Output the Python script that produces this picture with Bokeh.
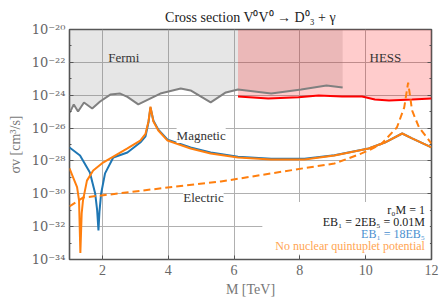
from bokeh.plotting import figure
from bokeh.models import (FixedTicker, Label, BoxAnnotation, LogAxis, CustomJSTickFormatter)
from bokeh.embed import file_html
from bokeh.resources import INLINE

# ---------------- data ----------------
# Fermi limit (grey)
fermi_M = [1.01, 1.13, 1.26, 1.44, 1.69, 1.93, 2.24, 2.54, 2.76, 3.09, 3.76, 4.38, 4.68,
           5.29, 5.75, 6.12, 7.13, 8.04, 8.81, 9.30]
fermi_log = [-25.05, -24.56, -24.99, -24.44, -24.81, -24.38, -23.96, -23.90, -24.10, -24.56,
             -23.90, -23.59, -23.71, -24.44, -23.83, -23.65, -23.90, -23.65, -23.41, -23.53]
# HESS limit (red)
hess_M = [6.12, 7.04, 7.96, 8.57, 9.28, 9.89, 10.28, 10.71, 11.41, 12.0]
hess_log = [-24.08, -24.20, -24.12, -24.02, -24.08, -24.08, -24.26, -24.32, -24.26, -24.20]
# Magnetic, no nuclear quintuplet potential (orange solid)
mag_M = [1.0, 1.10, 1.23, 1.29, 1.33, 1.37, 1.41, 1.53, 1.72, 2.02, 2.54, 2.76, 3.15, 3.31,
         3.40, 3.46, 3.55, 3.70, 3.98, 4.68, 5.29, 6.12, 7.13, 8.14, 9.05, 10.09, 10.58,
         11.11, 11.41, 12.0]
mag_log = [-28.45, -28.95, -29.6, -30.4, -33.6, -31.2, -30.4, -29.2, -28.58, -28.1, -27.49,
           -27.24, -26.76, -26.35, -25.6, -24.7, -25.6, -26.15, -26.76, -27.24, -27.55,
           -27.79, -27.91, -27.91, -27.67, -27.24, -26.88, -26.33, -26.63, -27.18]
# Magnetic, E_B1 = 18 E_B5 (blue)
magb_M = [1.0, 1.32, 1.62, 1.78, 1.84, 1.88, 1.91, 1.96, 2.08, 2.33, 2.76, 3.15, 3.31,
          3.40, 3.46, 3.55, 3.70, 3.98, 4.68, 5.29, 6.12, 7.13, 8.14, 9.05, 10.09, 10.58,
          11.11, 11.41, 12.0]
magb_log = [-27.18, -27.67, -28.7, -29.98, -31.0, -32.23, -31.1, -30.0, -28.76, -27.79,
            -27.49, -26.88, -26.5, -25.65, -24.75, -25.55, -26.10, -26.70, -27.18, -27.49,
            -27.74, -27.86, -27.87, -27.65, -27.24, -26.88, -26.33, -26.63, -27.18]
# Electric, no nuclear quintuplet potential (orange dashed)
ele_M = [1.0, 1.41, 2.24, 3.98, 5.60, 6.73, 8.26, 9.05, 9.79, 10.09, 10.49, 10.95, 11.17,
         11.29, 11.41, 11.62, 11.93, 12.0]
ele_log = [-30.77, -30.23, -30.04, -29.62, -29.25, -28.89, -28.40, -28.16, -27.61, -27.36,
           -26.94, -25.96, -24.75, -23.23, -24.93, -25.96, -26.76, -26.94]

y_ticks = [-20, -22, -24, -26, -28, -30, -32, -34]
y_minor = [-21, -23, -25, -27, -29, -31, -33]
x_ticks = [2, 4, 6, 8, 10, 12]

def sup(n):
    tbl = str.maketrans("-0123456789", "⁻⁰¹²³⁴⁵⁶⁷⁸⁹")
    return "10" + str(n).translate(tbl)

def pw(lst):
    return [10.0 ** v for v in lst]

SERIF = "DejaVu Serif"
SERIF2 = "Liberation Serif"
TOP = 1e-20

p = figure(width=448, height=308, x_range=(1, 12), y_range=(1e-34, 1e-20),
           y_axis_type="log", output_backend="svg", toolbar_location=None,
           min_border_left=69, min_border_right=17, min_border_top=29, min_border_bottom=49)

p.title.text = "Cross section V⁰V⁰ → D⁰₃ + γ"
p.title.align = "center"
p.title.text_font = SERIF2
p.title.text_font_size = "14px"
p.title.text_font_style = "normal"
p.title.text_color = "#222222"

p.background_fill_color = "white"
p.border_fill_color = "white"
p.outline_line_color = "#555555"
p.outline_line_width = 1.6

# grids
p.xgrid.ticker = FixedTicker(ticks=[2, 4, 6, 8, 10])
p.ygrid.ticker = FixedTicker(ticks=[float(f"1e{v}") for v in y_ticks])
for g in (p.xgrid, p.ygrid):
    g.grid_line_color = "#b0b0b0"
    g.grid_line_width = 1

# fills
p.varea(x=fermi_M, y1=pw(fermi_log), y2=[TOP] * len(fermi_M), fill_color="gray", fill_alpha=0.2)
p.varea(x=hess_M, y1=pw(hess_log), y2=[TOP] * len(hess_M), fill_color="red", fill_alpha=0.2)

# curves
p.line(fermi_M, pw(fermi_log), line_color="gray", line_width=2)
p.line(hess_M, pw(hess_log), line_color="red", line_width=2)
p.line(magb_M, pw(magb_log), line_color="#1f77b4", line_width=2)
p.line(mag_M, pw(mag_log), line_color="#ff7f0e", line_width=2)
p.line(ele_M, pw(ele_log), line_color="#ff7f0e", line_width=2, line_dash="7 4")

# axes
xa = p.xaxis[0]
xa.ticker = FixedTicker(ticks=x_ticks)
xa.axis_label = "M [TeV]"
ya = p.yaxis[0]
ya.ticker = FixedTicker(ticks=[float(f"1e{v}") for v in y_ticks],
                        minor_ticks=[float(f"1e{v}") for v in y_minor])
ya.major_label_overrides = {float(f"1e{v}"): sup(v) for v in y_ticks}
ya.axis_label = "σv [cm³/s]"
for ax in (xa, ya):
    ax.axis_line_color = None
    ax.major_tick_in = 4
    ax.major_tick_out = 0
    ax.minor_tick_in = 2
    ax.minor_tick_out = 0
    ax.major_tick_line_color = "#555555"
    ax.minor_tick_line_color = "#555555"
    ax.major_label_text_font = SERIF
    ax.major_label_text_font_size = "13px"
    ax.major_label_text_color = "#666666"
    ax.axis_label_text_font = SERIF2
    ax.axis_label_text_font_size = "14px"
    ax.axis_label_text_font_style = "normal"
    ax.axis_label_text_color = "#777777"
xa.minor_tick_in = 0
xa.major_label_text_font = SERIF2
xa.major_label_text_font_size = "14px"
xa.major_label_standoff = 5
xa.axis_label_standoff = 4
ya.major_label_standoff = 4
ya.axis_label_standoff = 6

ra = LogAxis(ticker=FixedTicker(ticks=[float(f"1e{v}") for v in y_ticks],
                                minor_ticks=[float(f"1e{v}") for v in y_minor]),
             formatter=CustomJSTickFormatter(code="return ''"),
             axis_line_color=None,
             major_tick_in=4, major_tick_out=0, minor_tick_in=2, minor_tick_out=0,
             major_tick_line_color="#555555", minor_tick_line_color="#555555")
ra.major_label_standoff = 0
p.add_layout(ra, "right")

# labels
def lab(x, y, t, color="#333333", size="12px", align="center", bg=None):
    kw = {}
    if bg:
        kw = dict(background_fill_color=bg, background_fill_alpha=1.0)
    p.add_layout(Label(x=x, y=y, text=t, text_font=SERIF2, text_font_size=size,
                       text_color=color, text_align=align, text_baseline="middle", **kw))

lab(2.65, 10 ** -21.7, "Fermi", size="13px")
lab(10.6, 10 ** -21.7, "HESS", size="13px")
lab(5.0, 10 ** -26.45, "Magnetic", size="13px", bg="white")
lab(5.07, 10 ** -30.2, "Electric", size="13px", bg="white")

p.add_layout(BoxAnnotation(left=6.86, right=11.95, bottom=10 ** -33.7, top=10 ** -30.5,
                           fill_color="white", fill_alpha=1.0, line_color=None))
lab(11.8, 10 ** -30.96, "r₀M = 1", color="#222222", align="right")
lab(11.8, 10 ** -31.69, "EB₁ = 2EB₅ = 0.01M", color="#222222", align="right")
lab(11.8, 10 ** -32.42, "EB₁ = 18EB₅", color="#4a90d0", align="right")
lab(11.8, 10 ** -33.15, "No nuclear quintuplet potential", color="#ffa552", align="right")

open("out.html", "w").write(file_html(p, INLINE))
